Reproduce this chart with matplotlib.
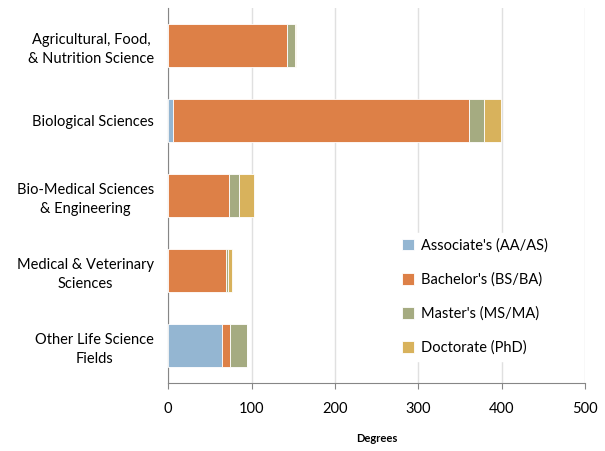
import numpy as np
import matplotlib.pyplot as plt

plt.rcParams['font.family'] = ['Lato', 'DejaVu Sans']

# data
fields = ['Agricultural, Food,\n& Nutrition Science', 'Biological Sciences',
          'Bio-Medical Sciences\n& Engineering', 'Medical & Veterinary\nSciences',
          'Other Life Science\nFields']
associate = [0, 6, 0, 0, 64]
bachelor = [143, 355, 73, 69, 10]
master = [9, 18, 12, 3, 21]
doctorate = [1, 20, 18, 5, 0]

series = [associate, bachelor, master, doctorate]
labels = ["Associate's (AA/AS)", "Bachelor's (BS/BA)", "Master's (MS/MA)", "Doctorate (PhD)"]
colors = ['#94B6D2', '#DD8047', '#A5AB81', '#D8B25C']

fig = plt.figure(figsize=(6.05, 4.51), dpi=100)
ax = fig.add_axes([0.278, 0.151, 0.689, 0.831])

y = np.arange(len(fields))
left = np.zeros(len(fields))
for vals, lab, col in zip(series, labels, colors):
    ax.barh(y, vals, left=left, height=0.57, color=col, edgecolor='white',
            linewidth=0.6, label=lab, zorder=3)
    left += np.array(vals)

ax.set_ylim(len(fields) - 0.5, -0.5)
ax.set_yticks(y)
ax.set_yticklabels(fields, fontsize=10.5, multialignment='center', linespacing=1.45)
ax.tick_params(axis='y', length=0, pad=10)

ax.set_xlim(0, 500)
ax.set_xticks([0, 100, 200, 300, 400, 500])
ax.tick_params(axis='x', labelsize=10.5, length=4, color='#868686', pad=10)
ax.set_xlabel('Degrees', fontsize=8, fontweight='bold', labelpad=12)

ax.grid(axis='x', color='#E0E0E0', linewidth=1, zorder=0)
ax.set_axisbelow(True)
for s in ['top', 'right']:
    ax.spines[s].set_visible(False)
ax.spines['left'].set_color('#868686')
ax.spines['bottom'].set_color('#868686')

leg = ax.legend(loc='upper left', bbox_to_anchor=(0.53, 0.42), frameon=True,
                fontsize=10.5, handlelength=0.8, handleheight=0.8,
                labelspacing=1.35, handletextpad=0.5, borderpad=0.4)
leg.get_frame().set_edgecolor('white')
leg.get_frame().set_facecolor('white')
leg.get_frame().set_alpha(1)

plt.savefig('out.png', dpi=100)
